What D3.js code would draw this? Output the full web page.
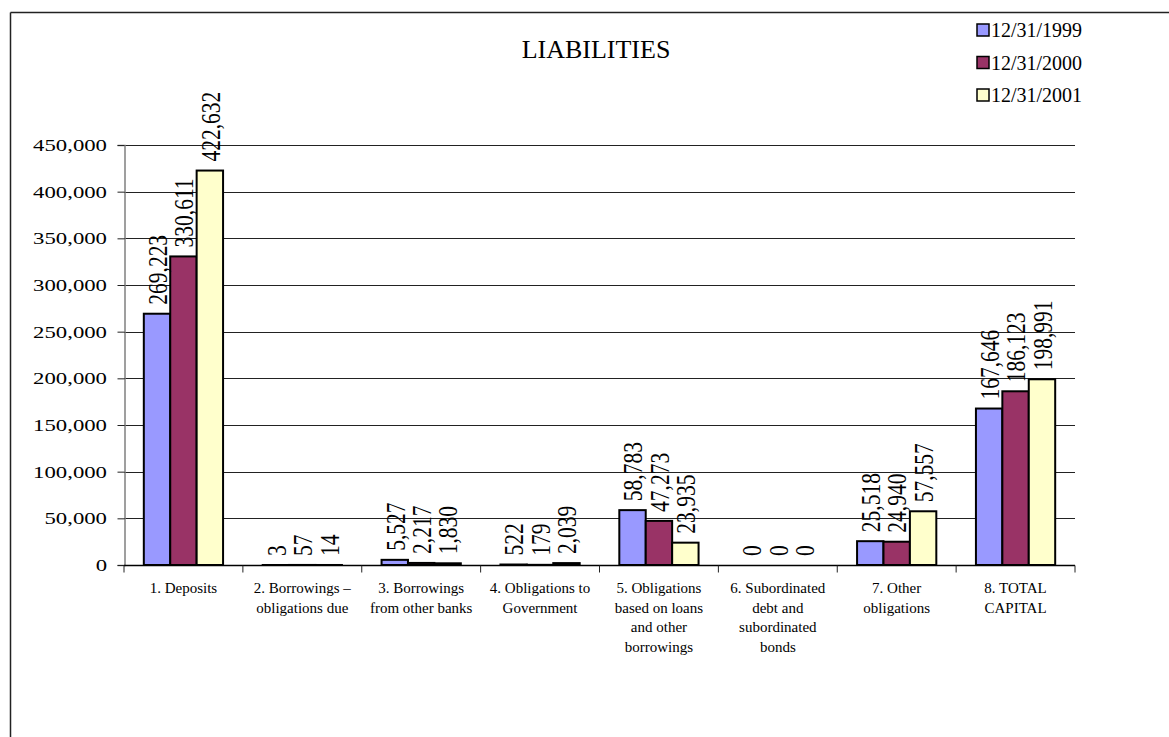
<!DOCTYPE html>
<html>
<head>
<meta charset="utf-8">
<script src="https://cdn.jsdelivr.net/npm/d3@7"></script>
<style>
  html, body { margin: 0; padding: 0; background: #fff; }
  svg { display: block; }
  text { font-family: "Liberation Serif", "Times New Roman", serif; fill: #000; }
</style>
</head>
<body>
<svg id="chart" width="1169" height="737"></svg>
<script>
const categories = [
  ["1. Deposits"],
  ["2. Borrowings –", "obligations due"],
  ["3. Borrowings", "from other banks"],
  ["4. Obligations to", "Government"],
  ["5. Obligations", "based on loans", "and other", "borrowings"],
  ["6. Subordinated", "debt and", "subordinated", "bonds"],
  ["7. Other", "obligations"],
  ["8. TOTAL", "CAPITAL"]
];
const seriesNames = ["12/31/1999", "12/31/2000", "12/31/2001"];
const values1999 = [269223, 3, 5527, 522, 58783, 0, 25518, 167646];
const values2000 = [330611, 57, 2217, 179, 47273, 0, 24940, 186123];
const values2001 = [422632, 14, 1830, 2039, 23935, 0, 57557, 198991];
const seriesColors = ["#9999FF", "#993366", "#FFFFCC"];
const yTicks = [0, 50000, 100000, 150000, 200000, 250000, 300000, 350000, 400000, 450000];
const title = "LIABILITIES";

const seriesValues = [values1999, values2000, values2001];
const svg = d3.select("#chart");
const fmt = d3.format(",");

const plot = { left: 124, right: 1075, top: 145, bottom: 565 };

const x0 = d3.scaleBand().domain(d3.range(categories.length)).range([plot.left, plot.right]).paddingInner(0).paddingOuter(0);
const x1 = d3.scaleBand().domain(d3.range(seriesNames.length)).range([0, x0.bandwidth()]).paddingInner(0).paddingOuter(0.75);
const y = d3.scaleLinear().domain([0, 450000]).range([plot.bottom, plot.top]);

// chart border (top & left)
svg.append("line").attr("x1", 10.5).attr("x2", 1169).attr("y1", 12.5).attr("y2", 12.5).attr("stroke", "#222").attr("stroke-width", 1.5);
svg.append("line").attr("x1", 10.5).attr("x2", 10.5).attr("y1", 12.5).attr("y2", 737).attr("stroke", "#222").attr("stroke-width", 1.5);

// title
svg.append("text").attr("x", 596).attr("y", 57.5).attr("text-anchor", "middle").attr("font-size", 26).text(title);

// gridlines
svg.append("g").selectAll("line").data(yTicks.filter(d => d > 0)).join("line")
  .attr("x1", plot.left).attr("x2", plot.right)
  .attr("y1", d => Math.round(y(d)) + 0.5).attr("y2", d => Math.round(y(d)) + 0.5)
  .attr("stroke", "#222").attr("stroke-width", 1);

// y axis
const yAxis = svg.append("g").attr("transform", `translate(${plot.left + 0.5},0)`)
  .call(d3.axisLeft(y).tickValues(yTicks).tickSize(7).tickFormat(""));
yAxis.select(".domain").attr("stroke", "#808080").attr("stroke-width", 1.5);
yAxis.selectAll(".tick line").attr("stroke", "#222");
svg.append("g").selectAll("text").data(yTicks).join("text")
  .attr("transform", d => `translate(107,${y(d)}) scale(1.3,1)`)
  .attr("dy", "0.35em").attr("text-anchor", "end").attr("font-size", 17.5)
  .text(d => fmt(d));

// x axis
const xAxis = svg.append("g").attr("transform", `translate(0,${plot.bottom + 0.5})`);
xAxis.append("line").attr("x1", plot.left).attr("x2", plot.right).attr("stroke", "#000").attr("stroke-width", 1.5);
xAxis.selectAll(".xt").data(d3.range(categories.length + 1)).join("line").attr("class", "xt")
  .attr("x1", i => i < categories.length ? x0(i) : plot.right)
  .attr("x2", i => i < categories.length ? x0(i) : plot.right)
  .attr("y1", 0).attr("y2", 7).attr("stroke", "#222");

// category labels
const cat = svg.append("g").selectAll("text").data(categories).join("text")
  .attr("text-anchor", "middle").attr("font-size", 15)
  .attr("x", (d, i) => x0(i) + x0.bandwidth() / 2).attr("y", 593);
cat.selectAll("tspan").data(d => d).join("tspan")
  .attr("x", function () { return this.parentNode.getAttribute("x"); })
  .attr("dy", (d, j) => j === 0 ? 0 : 19.5).text(d => d);

// bars
const groups = svg.append("g").selectAll("g").data(categories).join("g")
  .attr("transform", (d, i) => `translate(${x0(i)},0)`);
groups.selectAll("rect").data((d, i) => seriesValues.map((s, k) => ({ k, v: s[i] }))).join("rect")
  .attr("x", d => x1(d.k)).attr("width", x1.bandwidth())
  .attr("y", d => y(d.v)).attr("height", d => y(0) - y(d.v))
  .attr("fill", d => seriesColors[d.k]).attr("stroke", "#000").attr("stroke-width", 2);
groups.selectAll("text").data((d, i) => seriesValues.map((s, k) => ({ k, v: s[i] }))).join("text")
  .attr("transform", d => `translate(${x1(d.k) + x1.bandwidth() / 2},${y(d.v) - 9}) scale(1.3,1) rotate(-90)`)
  .attr("dy", "0.35em").attr("text-anchor", "start").attr("font-size", 21.5)
  .text(d => fmt(d.v));

// legend
const lg = svg.append("g").selectAll("g").data(seriesNames).join("g")
  .attr("transform", (d, i) => `translate(977,${30 + i * 32.5})`);
lg.append("rect").attr("x", 0).attr("y", -6).attr("width", 12).attr("height", 12)
  .attr("fill", (d, i) => seriesColors[i]).attr("stroke", "#000").attr("stroke-width", 1.5);
lg.append("text").attr("x", 14).attr("y", 0).attr("dy", "0.35em").attr("font-size", 20).text(d => d);
</script>
</body>
</html>
